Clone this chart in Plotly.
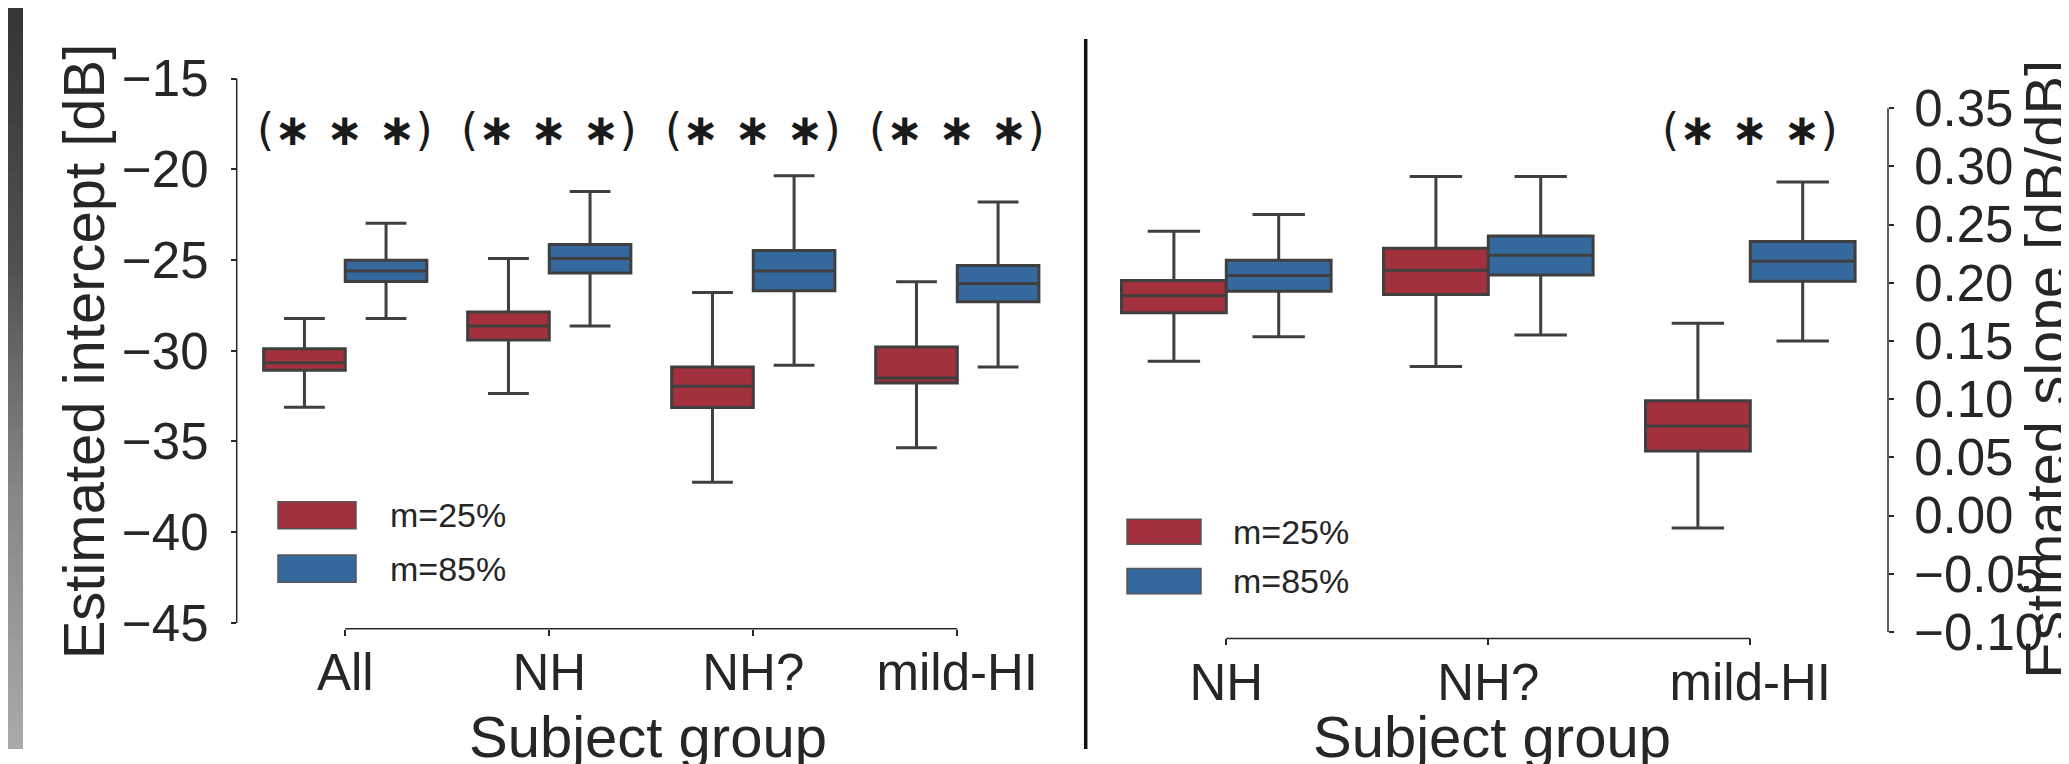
import plotly.graph_objects as go

W, H = 2069, 764

# ---------------- data ----------------
groups_left = ["All", "NH", "NH?", "mild-HI"]
int25_upper = [-28.22, -24.92, -26.79, -26.20]
int25_q3 = [-29.89, -27.86, -30.89, -29.80]
int25_med = [-30.66, -28.63, -31.96, -31.50]
int25_q1 = [-31.07, -29.41, -33.13, -31.78]
int25_lower = [-33.12, -32.35, -37.25, -35.34]
int85_upper = [-22.98, -21.22, -20.36, -21.80]
int85_q3 = [-25.01, -24.14, -24.48, -25.30]
int85_med = [-25.60, -24.92, -25.60, -26.30]
int85_q1 = [-26.19, -25.72, -26.70, -27.30]
int85_lower = [-28.22, -28.63, -30.80, -30.90]
sig_left = ["∗ ∗ ∗", "∗ ∗ ∗", "∗ ∗ ∗", "∗ ∗ ∗"]

groups_right = ["NH", "NH?", "mild-HI"]
slope25_upper = [0.2442, 0.2913, 0.1652]
slope25_q3 = [0.2019, 0.2297, 0.0986]
slope25_med = [0.1888, 0.2108, 0.0769]
slope25_q1 = [0.1742, 0.1900, 0.0555]
slope25_lower = [0.1325, 0.1280, -0.0106]
slope85_upper = [0.2588, 0.2913, 0.2867]
slope85_q3 = [0.2194, 0.2402, 0.2355]
slope85_med = [0.2063, 0.2236, 0.2186]
slope85_q1 = [0.1927, 0.2067, 0.2014]
slope85_lower = [0.1536, 0.1552, 0.1500]
sig_right = ["", "", "∗ ∗ ∗"]

hue_labels = ["m=25%", "m=85%"]
left_yticks = [-45, -40, -35, -30, -25, -20, -15]
right_yticks = [-0.10, -0.05, 0.00, 0.05, 0.10, 0.15, 0.20, 0.25, 0.30, 0.35]

# ---------------- style ----------------
RED = "#a3303d"
BLUE = "#35699d"
EDGE = "#3f3f3f"
TXT = "#262626"
FONT = "Liberation Sans, Arial, sans-serif"
colors = [RED, BLUE]


def px_x(x):
    return x / W


def px_y(y):
    return 1 - y / H


fig = go.Figure()

left_stats = [
    (int25_lower, int25_q1, int25_med, int25_q3, int25_upper),
    (int85_lower, int85_q1, int85_med, int85_q3, int85_upper),
]
right_stats = [
    (slope25_lower, slope25_q1, slope25_med, slope25_q3, slope25_upper),
    (slope85_lower, slope85_q1, slope85_med, slope85_q3, slope85_upper),
]

for i, (lo, q1, md, q3, up) in enumerate(left_stats):
    fig.add_trace(go.Box(
        x=groups_left, lowerfence=lo, q1=q1, median=md, q3=q3, upperfence=up,
        name=hue_labels[i], offsetgroup=str(i), boxpoints=False,
        fillcolor=colors[i], line=dict(color=EDGE, width=3), whiskerwidth=0.5,
        xaxis="x", yaxis="y", showlegend=False, hoverinfo="skip"))
for i, (lo, q1, md, q3, up) in enumerate(right_stats):
    fig.add_trace(go.Box(
        x=groups_right, lowerfence=lo, q1=q1, median=md, q3=q3, upperfence=up,
        name=hue_labels[i], offsetgroup=str(i), boxpoints=False,
        fillcolor=colors[i], line=dict(color=EDGE, width=3), whiskerwidth=0.5,
        xaxis="x2", yaxis="y2", showlegend=False, hoverinfo="skip"))

tickfont = dict(family=FONT, size=51, color=TXT)
common_ax = dict(showgrid=False, zeroline=False, showline=False,
                 ticks="outside", tickcolor=TXT, tickwidth=1.5, tickfont=tickfont)

shapes = []
annotations = []

# gray strip at the far left (gradient approximated by bands)
stops = [(0, 53), (260, 80), (380, 108), (500, 135), (764, 170)]
band = 12
y = 0
while y < H:
    yc = y + band / 2
    for (y0, c0), (y1, c1) in zip(stops[:-1], stops[1:]):
        if y0 <= yc <= y1:
            c = int(c0 + (c1 - c0) * (yc - y0) / (y1 - y0))
            break
    shapes.append(dict(type="rect", xref="paper", yref="paper", x0=0, x1=px_x(15),
                       y0=px_y(min(y + band + 1, H)), y1=px_y(y),
                       fillcolor=f"rgb({c},{c},{c + 3})", line=dict(width=0), layer="below"))
    y += band

# divider
shapes.append(dict(type="line", xref="paper", yref="paper", x0=px_x(1077.7), x1=px_x(1077.7),
                   y0=0, y1=px_y(32), line=dict(color="#111111", width=3.5)))

# trimmed axis lines
shapes += [
    dict(type="line", xref="x domain", yref="y", x0=0, x1=0,
         y0=left_yticks[0], y1=left_yticks[-1], line=dict(color=TXT, width=1.5)),
    dict(type="line", xref="x", yref="y domain", x0=groups_left[0], x1=groups_left[-1],
         y0=0, y1=0, line=dict(color=TXT, width=1.5)),
    dict(type="line", xref="x2 domain", yref="y2", x0=1, x1=1,
         y0=right_yticks[0], y1=right_yticks[-1], line=dict(color=TXT, width=1.5)),
    dict(type="line", xref="x2", yref="y2 domain", x0=groups_right[0], x1=groups_right[-1],
         y0=0, y1=0, line=dict(color=TXT, width=1.5)),
]

# legends (patches + labels)
legend_left = [(270, 348, 509, 537), (270, 348, 564, 592)]
legend_right = [(1119, 1193, 527, 553), (1119, 1193, 578, 604)]
for leg, tx in [(legend_left, 380), (legend_right, 1223)]:
    for i, (x0, x1, y0, y1) in enumerate(leg):
        shapes.append(dict(type="rect", xref="paper", yref="paper",
                           x0=px_x(x0), x1=px_x(x1), y0=px_y(y1), y1=px_y(y0),
                           fillcolor=colors[i], line=dict(color="#555555", width=1.5)))
        annotations.append(dict(xref="paper", yref="paper", x=px_x(tx), y=px_y((y0 + y1) / 2),
                                text=hue_labels[i], showarrow=False, xanchor="left", yanchor="middle",
                                font=dict(family=FONT, size=34, color=TXT)))

# significance marks: light parentheses, bold asterisks
sigfont = dict(family="DejaVu Sans, sans-serif", size=44, color="#1a1a1a")


def sig_text(s):
    return "(<b>" + s + "</b>)"


for g, s in zip(groups_left, sig_left):
    if s:
        annotations.append(dict(xref="x", yref="y", x=g, y=-17.8, text=sig_text(s),
                                showarrow=False, xanchor="center", yanchor="middle", font=sigfont))
for g, s in zip(groups_right, sig_right):
    if s:
        annotations.append(dict(xref="x2", yref="y2", x=g, y=0.332, text=sig_text(s),
                                showarrow=False, xanchor="center", yanchor="middle", font=sigfont))

# axis titles
titlefont = dict(family=FONT, size=58, color=TXT)
annotations += [
    dict(xref="paper", yref="paper", x=px_x(75), y=px_y(354), text="Estimated intercept [dB]",
         textangle=-90, showarrow=False, xanchor="center", yanchor="middle", font=titlefont),
    dict(xref="paper", yref="paper", x=px_x(2038), y=px_y(373), text="Estimated slope [dB/dB]",
         textangle=-90, showarrow=False, xanchor="center", yanchor="middle", font=titlefont),
    dict(xref="paper", yref="paper", x=px_x(640), y=px_y(751), text="Subject group",
         showarrow=False, xanchor="center", yanchor="middle", font=titlefont),
    dict(xref="paper", yref="paper", x=px_x(1483.6), y=px_y(751), text="Subject group",
         showarrow=False, xanchor="center", yanchor="middle", font=titlefont),
]

fig.update_layout(
    width=W, height=H, margin=dict(l=0, r=0, t=0, b=0),
    paper_bgcolor="white", plot_bgcolor="white",
    boxmode="group", boxgap=0.2, boxgroupgap=0,
    showlegend=False,
    xaxis=dict(domain=[px_x(228.7), px_x(1051.3)], range=[-0.532, 3.5], type="category",
               anchor="y", ticklen=6, ticklabelstandoff=-7, **common_ax),
    yaxis=dict(domain=[px_y(640), px_y(40)], range=[-45.32, -13.25], anchor="x",
               tickvals=left_yticks, ticklen=5, ticklabelstandoff=12, **common_ax),
    xaxis2=dict(domain=[px_x(1087.3), px_x(1880)], range=[-0.5, 2.5256], type="category",
                anchor="y2", ticklen=6, ticklabelstandoff=-7, **common_ax),
    yaxis2=dict(domain=[px_y(650), px_y(40)], range=[-0.1056, 0.4028], anchor="x2",
                side="right", tickvals=right_yticks, tickformat=".2f", ticklen=5,
                ticklabelstandoff=10, **common_ax),
    shapes=shapes, annotations=annotations,
)

fig.write_html("out.html")
